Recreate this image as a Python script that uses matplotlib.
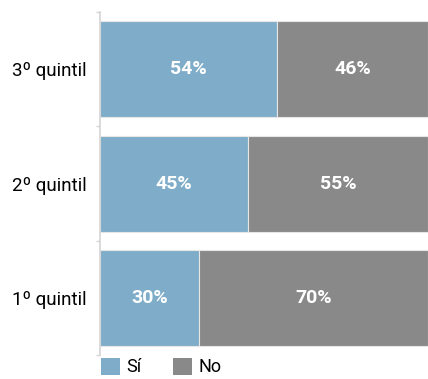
import matplotlib.pyplot as plt
from matplotlib.patches import Patch

# Data
categories = ["1º quintil", "2º quintil", "3º quintil"]
si_vals = [30, 45, 54]
no_vals = [70, 55, 46]
series_names = ["Sí", "No"]

BLUE = "#7fadc9"
GRAY = "#898989"
AXIS_C = "#d4d4d4"

plt.rcParams["font.family"] = ["Roboto", "DejaVu Sans"]

fig = plt.figure(figsize=(4.28, 3.79), dpi=100)
ax = fig.add_axes([0.234, 0.063, 0.766, 0.905])

y = range(len(categories))
ax.barh(y, si_vals, height=0.84, color=BLUE, edgecolor="#e6e6e6", linewidth=0.8)
ax.barh(y, no_vals, left=si_vals, height=0.84, color=GRAY, edgecolor="#e6e6e6", linewidth=0.8)

# percentage labels centred in each segment
for i, (s, n) in enumerate(zip(si_vals, no_vals)):
    ax.text(s / 2, i, f"{s}%", ha="center", va="center", color="white",
            fontsize=14, fontweight="bold")
    ax.text(s + n / 2, i, f"{n}%", ha="center", va="center", color="white",
            fontsize=14, fontweight="bold")

ax.set_xlim(0, 100)
ax.set_ylim(-0.5, len(categories) - 0.5)
ax.set_yticks(list(y))
ax.set_yticklabels(categories, fontsize=13.5)
ax.set_yticks([-0.5, 0.5, 1.5, 2.5], minor=True)
ax.tick_params(axis="y", which="major", length=0, pad=10)
ax.tick_params(axis="y", which="minor", length=3, color=AXIS_C, width=1)
ax.set_xticks([])

for side in ["top", "right", "bottom"]:
    ax.spines[side].set_visible(False)
ax.spines["left"].set_color(AXIS_C)
ax.spines["left"].set_linewidth(1.2)

handles = [Patch(facecolor=BLUE, label=series_names[0]),
           Patch(facecolor=GRAY, label=series_names[1])]
fig.legend(handles=handles, loc="lower left", bbox_to_anchor=(0.197, -0.036),
           ncol=2, frameon=False, fontsize=13, handlelength=1.05, handleheight=1.05,
           handletextpad=0.4, columnspacing=1.7)

fig.savefig("out.png", dpi=100)
